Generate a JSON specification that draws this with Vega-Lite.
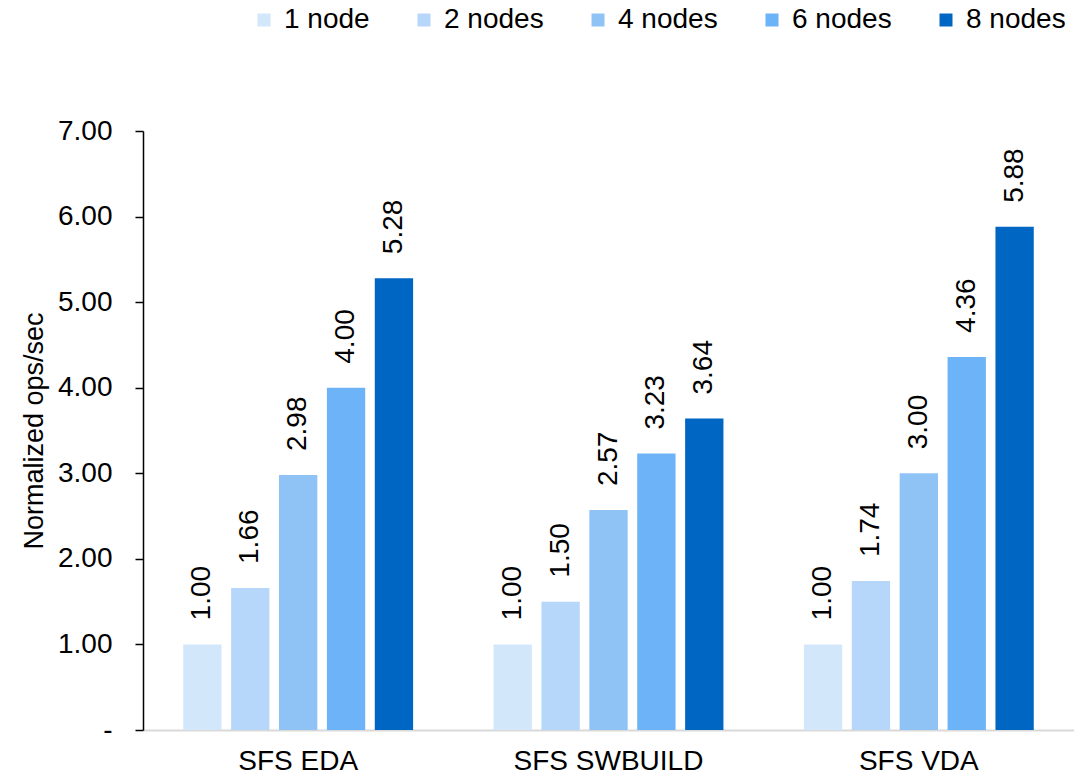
{
  "$schema": "https://vega.github.io/schema/vega-lite/v6.json",
  "autosize": {"type": "none"},
  "width": 931,
  "height": 599,
  "padding": {"left": 143, "top": 131, "right": 0, "bottom": 48},
  "background": "white",
  "config": {
    "view": {"stroke": null},
    "font": "Liberation Sans",
    "text": {"font": "Liberation Sans"}
  },
  "data": {
    "values": [
      {"workload": "SFS EDA", "nodes": "1 node", "value": 1.00},
      {"workload": "SFS EDA", "nodes": "2 nodes", "value": 1.66},
      {"workload": "SFS EDA", "nodes": "4 nodes", "value": 2.98},
      {"workload": "SFS EDA", "nodes": "6 nodes", "value": 4.00},
      {"workload": "SFS EDA", "nodes": "8 nodes", "value": 5.28},
      {"workload": "SFS SWBUILD", "nodes": "1 node", "value": 1.00},
      {"workload": "SFS SWBUILD", "nodes": "2 nodes", "value": 1.50},
      {"workload": "SFS SWBUILD", "nodes": "4 nodes", "value": 2.57},
      {"workload": "SFS SWBUILD", "nodes": "6 nodes", "value": 3.23},
      {"workload": "SFS SWBUILD", "nodes": "8 nodes", "value": 3.64},
      {"workload": "SFS VDA", "nodes": "1 node", "value": 1.00},
      {"workload": "SFS VDA", "nodes": "2 nodes", "value": 1.74},
      {"workload": "SFS VDA", "nodes": "4 nodes", "value": 3.00},
      {"workload": "SFS VDA", "nodes": "6 nodes", "value": 4.36},
      {"workload": "SFS VDA", "nodes": "8 nodes", "value": 5.88}
    ]
  },
  "encoding": {
    "x": {
      "field": "workload", "type": "nominal", "sort": null,
      "scale": {"paddingInner": 0, "paddingOuter": 0},
      "axis": {
        "title": null, "ticks": false, "domainColor": "#d9d9d9", "domainWidth": 2,
        "labelAngle": 0, "labelFontSize": 28, "labelColor": "#000000", "labelPadding": 17,
        "labelFont": "Liberation Sans", "labelLimit": 400
      }
    },
    "xOffset": {
      "field": "nodes", "type": "nominal", "sort": null,
      "scale": {"paddingInner": 0.2, "paddingOuter": 0.84}
    },
    "y": {
      "field": "value", "type": "quantitative",
      "scale": {"domain": [0, 7], "nice": false},
      "axis": {
        "title": "Normalized ops/sec", "titleFontSize": 27, "titleFontWeight": "normal",
        "titleColor": "#000000", "titlePadding": 9, "titleFont": "Liberation Sans",
        "values": [0, 1, 2, 3, 4, 5, 6, 7], "grid": false,
        "domainColor": "#000000", "domainWidth": 1.5, "tickColor": "#000000", "tickSize": 8, "tickWidth": 1.5,
        "labelFontSize": 28, "labelColor": "#000000", "labelPadding": 23, "labelFont": "Liberation Sans",
        "labelExpr": "datum.value == 0 ? '-\u00a0\u00a0\u00a0' : format(datum.value, '.2f')"
      }
    }
  },
  "layer": [
    {
      "mark": {"type": "bar"},
      "encoding": {
        "color": {
          "field": "nodes", "type": "nominal", "sort": null,
          "scale": {
            "domain": ["1 node", "2 nodes", "4 nodes", "6 nodes", "8 nodes"],
            "range": ["#d3e7fb", "#b6d7f9", "#8fc3f6", "#6cb3f7", "#0066c4"]
          },
          "legend": {
            "orient": "none", "direction": "horizontal", "columns": 5,
            "legendX": 107, "legendY": -125, "title": null,
            "symbolType": "square", "symbolSize": 169, "symbolStrokeWidth": 0,
            "labelFontSize": 28, "labelColor": "#000000", "labelOffset": 6,
            "columnPadding": 40, "labelFont": "Liberation Sans", "labelLimit": 300
          }
        }
      }
    },
    {
      "mark": {"type": "text", "angle": -90, "align": "left", "baseline": "middle", "dx": 24, "fontSize": 28, "color": "#000000", "font": "Liberation Sans"},
      "encoding": {
        "text": {"field": "value", "type": "quantitative", "format": ".2f"}
      }
    }
  ]
}
